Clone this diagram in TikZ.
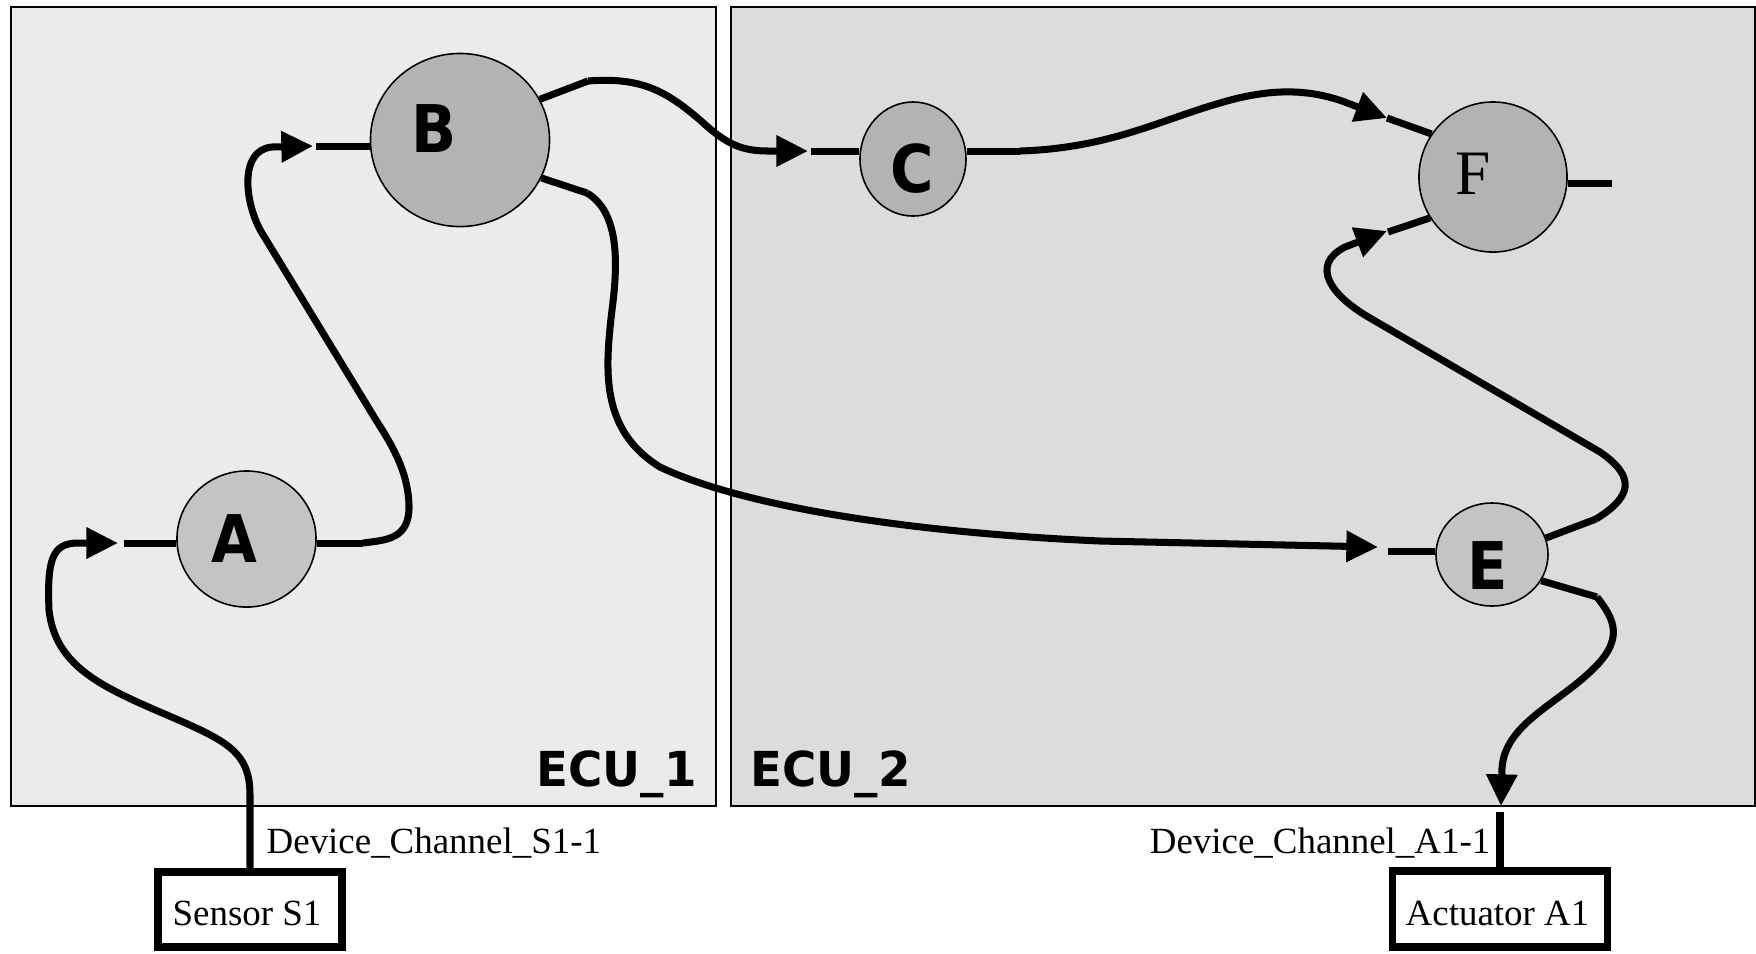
\documentclass[tikz,border=0pt]{standalone}
\usepackage{fontspec}
\setmainfont{Liberation Serif}
\newfontfamily\lblfont{DejaVu Sans}[FakeStretch=0.9]
\newfontfamily\ecufont{DejaVu Sans}[FakeStretch=0.97]
\usetikzlibrary{arrows.meta,shapes.geometric}
\definecolor{ecuone}{HTML}{EBEBEB}
\definecolor{ecutwo}{HTML}{DCDCDC}
\definecolor{nodelight}{HTML}{C4C4C4}
\definecolor{nodedark}{HTML}{B3B3B3}
\begin{document}
\begin{tikzpicture}[x=0.01cm,y=-0.01cm,
 ecubox/.style={draw=black, line width=0.6pt, rectangle, inner sep=0pt},
 proc/.style={draw=black, line width=0.45pt, ellipse, inner sep=0pt},
 letter/.style={font=\lblfont\bfseries\fontsize{18.7}{20}\selectfont, inner sep=0pt, anchor=base},
 ecutext/.style={font=\ecufont\bfseries\fontsize{13.7}{15}\selectfont, inner sep=0pt},
 serif/.style={font=\fontsize{10.5}{12}\selectfont, inner sep=0pt},
 device/.style={draw=black, line width=2.2pt, rectangle, inner sep=0pt},
 stub/.style={line width=2pt},
 wire/.style={line width=2pt, -{Triangle[length=9pt,width=8.5pt]}}
]
\path[use as bounding box, fill=white] (0,0) rectangle (1756,953);

% ECU containers
\node[ecubox, fill=ecuone, minimum width=7.05cm, minimum height=7.99cm] (ecu1) at (363.5,406.5) {};
\node[ecubox, fill=ecutwo, minimum width=10.24cm, minimum height=7.99cm] (ecu2) at (1243,406.5) {};
\node[ecutext, anchor=base west] (ecu1lbl) at (536,786) {ECU\_1};
\node[ecutext, anchor=base west] (ecu2lbl) at (750,786) {ECU\_2};

% process nodes
\node[proc, fill=nodelight, minimum width=1.39cm, minimum height=1.36cm] (A) at (246.5,539) {};
\node[proc, fill=nodedark, minimum width=1.79cm, minimum height=1.73cm] (B) at (460,140) {};
\node[proc, fill=nodedark, minimum width=1.06cm, minimum height=1.14cm] (C) at (913,159) {};
\node[proc, fill=nodedark, minimum width=1.48cm, minimum height=1.50cm] (F) at (1493,177) {};
\node[proc, fill=nodelight, minimum width=1.12cm, minimum height=1.03cm] (E) at (1492,554.5) {};

\node[letter] (Alabel) at (234,562) {A};
\node[letter] (Blabel) at (434,152) {B};
\node[letter] (Clabel) at (912,192) {C};
\node[letter] (Elabel) at (1488,589) {E};
\node[font=\fontsize{18}{20}\selectfont, inner sep=0pt, anchor=base] (Flabel) at (1473,194) {F};

% devices
\node[device, minimum width=1.84cm, minimum height=0.75cm] (S) at (250,909.5) {};
\node[device, minimum width=2.15cm, minimum height=0.76cm] (Act) at (1500,909) {};
\node[serif, anchor=base] (Slbl) at (247,925) {Sensor S1};
\node[serif, anchor=base] (Actlbl) at (1497.5,925) {Actuator A1};
\node[serif, anchor=base west] (dcs) at (266,853) {Device\_Channel\_S1-1};
\node[serif, anchor=base east] (dca) at (1491,853) {Device\_Channel\_A1-1};

% port coordinates
\coordinate (Ain) at (124,543);
\coordinate (Aout) at (363,543);
\coordinate (Bin) at (316,146);
\coordinate (Bout1) at (588,81);
\coordinate (Bout2) at (587,193);
\coordinate (Cin) at (811,151);
\coordinate (Cout) at (1020,151);
\coordinate (Fin1) at (1387,118);
\coordinate (Fin2) at (1388,232);
\coordinate (Fout) at (1612,183);
\coordinate (Ein) at (1388,551);
\coordinate (Eout1) at (1596,519);
\coordinate (Eout2) at (1597,597);
\coordinate (Actin) at (1500,812);
% arrow tips
\coordinate (Atip) at (118,543);
\coordinate (Btip) at (313,146);
\coordinate (Ctip) at (808,151);
\coordinate (Etip) at (1378,547);
\coordinate (F1tip) at (1387,118);
\coordinate (F2tip) at (1387,231);
\coordinate (Acttip) at (1501,806);

% stubs
\draw[stub] (Ain) -- (A.west |- Ain);
\draw[stub] (A.east |- Aout) -- (Aout);
\draw[stub] (Bin) -- (B.west |- Bin);
\draw[stub] (B.27) -- (Bout1);
\draw[stub] (B.-25) -- (Bout2);
\draw[stub] (Cin) -- (C.west |- Cin);
\draw[stub] (C.east |- Cout) -- (Cout);
\draw[stub] (Fin1) -- (F.145);
\draw[stub] (Fin2) -- (F.213);
\draw[stub] (F.east |- Fout) -- (Fout);
\draw[stub] (Ein) -- (E.west |- Ein);
\draw[stub] (E.17) -- (Eout1);
\draw[stub] (E.-28) -- (Eout2);
\draw[stub] (Actin) -- (Act.north);

% wires
\draw[wire] (S.north) -- (250,795) .. controls (250,750) and (225,740) .. (160,712)
  .. controls (100,686) and (55,665) .. (49,610)
  .. controls (47,560) and (52,543) .. (78,543) -- (Atip);
\draw[wire] (Aout) .. controls (385,540) and (410,540) .. (409,505)
  .. controls (408,470) and (390,442) .. (376,420) -- (262,233)
  .. controls (245,205) and (238,150) .. (272,147) -- (Btip);
\draw[wire] (Bout1) .. controls (640,77) and (665,90) .. (700,120)
  .. controls (725,143) and (740,151) .. (768,151) -- (Ctip);
\draw[wire] (Bout2) .. controls (615,210) and (620,250) .. (612,310)
  .. controls (605,370) and (600,430) .. (660,467)
  .. controls (740,505) and (900,532) .. (1100,541) -- (Etip);
\draw[wire] (Cout) .. controls (1110,148) and (1160,120) .. (1220,103)
  .. controls (1270,88) and (1310,88) .. (1350,104) -- (F1tip);
\draw[wire] (Eout1) .. controls (1630,498) and (1638,478) .. (1600,452) -- (1370,318)
  .. controls (1330,295) and (1310,265) .. (1345,247) -- (F2tip);
\draw[wire] (Eout2) .. controls (1615,620) and (1625,640) .. (1590,672)
  .. controls (1555,705) and (1505,725) .. (1502,768) -- (Acttip);
\end{tikzpicture}
\end{document}
